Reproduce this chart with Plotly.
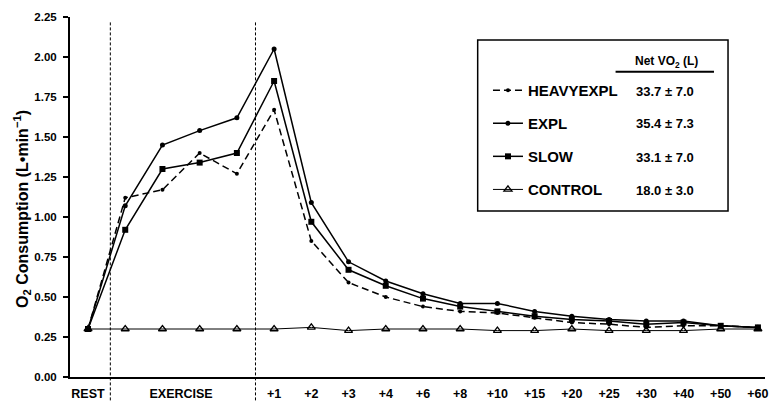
import plotly.graph_objects as go

# ---------------- data ----------------
x_labels = ["REST", "EX1", "EX2", "EX3", "EX4", "+1", "+2", "+3", "+4", "+6",
            "+8", "+10", "+15", "+20", "+25", "+30", "+40", "+50", "+60"]
heavyexpl = [0.30, 1.12, 1.17, 1.40, 1.27, 1.67, 0.85, 0.59, 0.50, 0.44,
             0.41, 0.40, 0.37, 0.34, 0.33, 0.31, 0.32, 0.32, 0.31]
expl = [0.30, 1.07, 1.45, 1.54, 1.62, 2.05, 1.09, 0.72, 0.60, 0.52,
        0.46, 0.46, 0.41, 0.38, 0.36, 0.35, 0.35, 0.32, 0.31]
slow = [0.30, 0.92, 1.30, 1.34, 1.40, 1.85, 0.97, 0.67, 0.57, 0.49,
        0.44, 0.41, 0.38, 0.36, 0.35, 0.33, 0.34, 0.32, 0.31]
control = [0.30, 0.30, 0.30, 0.30, 0.30, 0.30, 0.31, 0.29, 0.30, 0.30,
           0.30, 0.29, 0.29, 0.30, 0.29, 0.29, 0.29, 0.30, 0.30]
series_names = ["HEAVYEXPL", "EXPL", "SLOW", "CONTROL"]
net_vo2 = ["33.7 ± 7.0", "35.4 ± 7.3", "33.1 ± 7.0", "18.0 ± 3.0"]
tick_positions = [0, 2.5] + list(range(5, 19))
tick_text = ["REST", "EXERCISE", "+1", "+2", "+3", "+4", "+6", "+8", "+10",
             "+15", "+20", "+25", "+30", "+40", "+50", "+60"]
phase_bounds = [0.6, 4.5]
y_ticks = [0, 0.25, 0.5, 0.75, 1.0, 1.25, 1.5, 1.75, 2.0, 2.25]

# ---------------- figure ----------------
FONT = "Liberation Sans, Arial, Helvetica, sans-serif"
xi = list(range(len(x_labels)))

fig = go.Figure()
styles = [
    dict(line=dict(color="black", width=1.5, dash="7px,4px"),
         marker=dict(symbol="circle", size=4, color="black")),
    dict(line=dict(color="black", width=1.5),
         marker=dict(symbol="circle", size=5, color="black")),
    dict(line=dict(color="black", width=1.5),
         marker=dict(symbol="square", size=6, color="black")),
    dict(line=dict(color="black", width=1),
         marker=dict(symbol="triangle-up-open", size=7, color="black",
                     line=dict(width=1.3, color="black"))),
]
for name, ys, st in zip(series_names, [heavyexpl, expl, slow, control], styles):
    fig.add_trace(go.Scatter(x=xi, y=ys, name=name, mode="lines+markers",
                             legendgroup=name, **st))

# phase separators
for b in phase_bounds:
    fig.add_shape(type="line", xref="x", yref="paper", x0=b, x1=b,
                  y0=-0.065, y1=0.987,
                  line=dict(color="black", width=1, dash="3px,2px"))

# legend box
fig.add_shape(type="rect", xref="paper", yref="paper",
              x0=0.5866, x1=0.9468, y0=0.461, y1=0.936,
              line=dict(color="black", width=1.5))
# header underline
fig.add_shape(type="line", xref="paper", yref="paper",
              x0=0.785, x1=0.9266, y0=0.848, y1=0.848,
              line=dict(color="black", width=2))
fig.add_annotation(xref="paper", yref="paper", x=0.8576, y=0.876,
                   text="Net VO<sub>2</sub> (L)", showarrow=False,
                   font=dict(family=FONT, size=12, color="black", weight="bold"),
                   xanchor="center", yanchor="middle")
row_y = [0.794, 0.703, 0.611, 0.517]
for v, ry in zip(net_vo2, row_y):
    fig.add_annotation(xref="paper", yref="paper", x=0.856, y=ry, text=v,
                       showarrow=False, xanchor="center", yanchor="middle",
                       font=dict(family=FONT, size=13, color="black", weight="bold"))

# y-axis title
fig.add_annotation(xref="paper", yref="paper", x=-0.069, y=0.467,
                   text="O<sub>2</sub> Consumption (L•min<sup>−1</sup>)",
                   textangle=-90, showarrow=False, xanchor="center", yanchor="middle",
                   font=dict(family=FONT, size=16, color="black", weight="bold"))

fig.update_layout(
    width=771, height=403,
    margin=dict(l=70, r=6, t=17, b=26),
    paper_bgcolor="white", plot_bgcolor="white",
    font=dict(family=FONT, color="black"),
    showlegend=True,
    legend=dict(x=0.6014, y=0.842, xanchor="left", yanchor="top",
                bgcolor="rgba(0,0,0,0)", borderwidth=0,
                tracegroupgap=10.6, traceorder="grouped",
                font=dict(family=FONT, size=15, color="black", weight="bold")),
    xaxis=dict(range=[-0.484, 18.19], showgrid=False, zeroline=False,
               automargin=False,
               showline=True, linecolor="black", linewidth=2,
               tickmode="array", tickvals=tick_positions, ticktext=tick_text,
               ticks="outside", ticklen=4, tickcolor="rgba(0,0,0,0)",
               tickfont=dict(family=FONT, size=12.5, color="black", weight="bold")),
    yaxis=dict(range=[0, 2.25], showgrid=False, zeroline=False,
               automargin=False,
               showline=True, linecolor="black", linewidth=2,
               tickmode="array", tickvals=y_ticks, tickformat=".2f",
               ticks="outside", ticklen=5, tickwidth=1.5, tickcolor="black",
               ticklabelstandoff=4,
               tickfont=dict(family=FONT, size=11.5, color="black", weight="bold")),
)

fig.write_html("out.html", config={"displayModeBar": False},
               post_script="document.body.style.margin='0';document.body.style.padding='0';")
